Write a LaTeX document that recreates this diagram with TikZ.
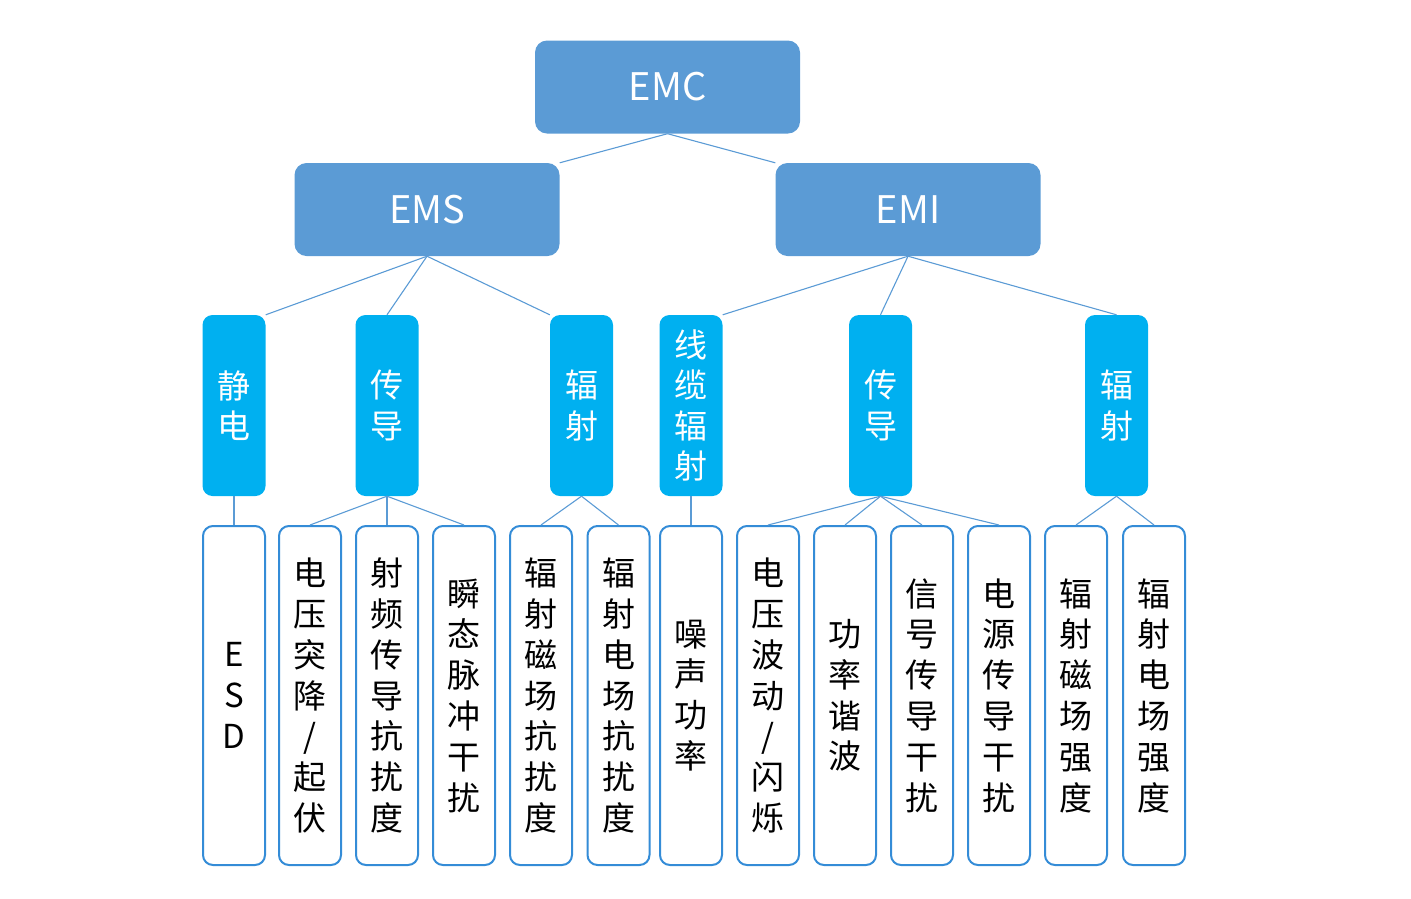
\documentclass[tikz,border=0pt]{standalone}
\usepackage{fontspec}
\setmainfont{Noto Sans CJK SC}
\usetikzlibrary{positioning}
\definecolor{topcol} {RGB}{91,155,213}
\definecolor{midcol} {RGB}{0,176,240}
\definecolor{leafcol}{RGB}{52,140,215}
\definecolor{linecol}{RGB}{91,155,213}

\begin{document}
\begin{tikzpicture}[x=1pt,y=-1pt,
  topbox/.style ={rectangle,rounded corners=12pt,fill=topcol,text=white,
                  minimum width=265pt,minimum height=93pt,inner sep=0pt,
                  font=\fontsize{38}{46}\selectfont},
  midbox/.style ={rectangle,rounded corners=10pt,fill=midcol,text=white,
                  minimum width=63pt,minimum height=181pt,inner sep=0pt,
                  align=center,font=\fontsize{33}{40.5}\selectfont},
  leafbox/.style={rectangle,rounded corners=10pt,draw=leafcol,fill=white,
                  line width=2pt,minimum width=62pt,minimum height=339pt,
                  inner sep=0pt,align=center,font=\fontsize{33}{40.8}\selectfont},
  conn/.style   ={linecol,line width=1.1pt}
]
\useasboundingbox (0,0) rectangle (1411,898);

% top levels
\node[topbox] (emc) at (667.5, 87)  {EMC};
\node[topbox] (ems) at (427,  209.5) {EMS};
\node[topbox] (emi) at (908,  209.5) {EMI};

% middle level
\node[midbox] (ms1) at (234,   405.5) {静\\电};
\node[midbox] (ms2) at (387,   405.5) {传\\导};
\node[midbox] (ms3) at (581.5, 405.5) {辐\\射};
\node[midbox] (mi1) at (691,   405.5) {线\\缆\\辐\\射};
\node[midbox] (mi2) at (880.5, 405.5) {传\\导};
\node[midbox] (mi3) at (1116.5,405.5) {辐\\射};

% leaves
\foreach \n/\x/\t in {l1/234/{E\\S\\D},
                      l2/310/{电\\压\\突\\降\\/\\起\\伏},
                      l3/387/{射\\频\\传\\导\\抗\\扰\\度},
                      l4/464/{瞬\\态\\脉\\冲\\干\\扰},
                      l5/541/{辐\\射\\磁\\场\\抗\\扰\\度},
                      l6/618.5/{辐\\射\\电\\场\\抗\\扰\\度},
                      l7/691/{噪\\声\\功\\率},
                      l8/768/{电\\压\\波\\动\\/\\闪\\烁},
                      l9/845/{功\\率\\谐\\波},
                      l10/922/{信\\号\\传\\导\\干\\扰},
                      l11/999/{电\\源\\传\\导\\干\\扰},
                      l12/1076/{辐\\射\\磁\\场\\强\\度},
                      l13/1154/{辐\\射\\电\\场\\强\\度}}
  \node[leafbox] (\n) at (\x, 695.5) {\t};

% connectors
\draw[conn] (emc.south) -- (ems.north east);
\draw[conn] (emc.south) -- (emi.north west);

\draw[conn] (ems.south) -- (ms1.north east);
\draw[conn] (ems.south) -- (ms2.north);
\draw[conn] (ems.south) -- (ms3.north west);
\draw[conn] (emi.south) -- (mi1.north east);
\draw[conn] (emi.south) -- (mi2.north);
\draw[conn] (emi.south) -- (mi3.north);

\draw[conn] (ms1.south) -- (l1.north);
\foreach \d in {l2,l3,l4}
  \draw[conn] (ms2.south) -- (\d.north);
\foreach \d in {l5,l6}
  \draw[conn] (ms3.south) -- (\d.north);
\draw[conn] (mi1.south) -- (l7.north);
\foreach \d in {l8,l9,l10,l11}
  \draw[conn] (mi2.south) -- (\d.north);
\foreach \d in {l12,l13}
  \draw[conn] (mi3.south) -- (\d.north);
\end{tikzpicture}
\end{document}
